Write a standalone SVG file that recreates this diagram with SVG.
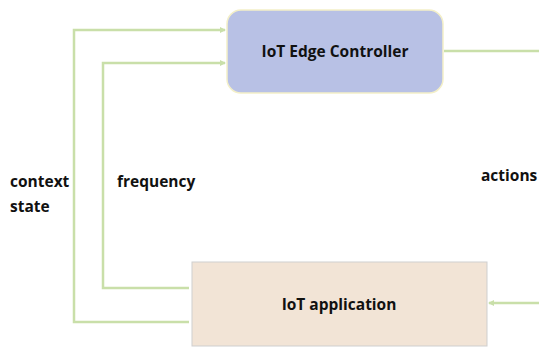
<svg xmlns="http://www.w3.org/2000/svg" width="539" height="348" viewBox="0 0 539 348">
  <style>
    .wire { fill: none; stroke: #c9dfa9; stroke-width: 2.5; }
    .label { font-family: "Open Sans", "Liberation Sans", sans-serif; font-weight: bold; font-size: 15.5px; fill: #111; }
  </style>
  <defs>
    <marker id="arrow" markerWidth="6" markerHeight="6" refX="5" refY="3" orient="auto" markerUnits="userSpaceOnUse">
      <path d="M0,0 L6,3 L0,6 Z" fill="#c9dfa9"/>
    </marker>
  </defs>
  <rect width="539" height="348" fill="#fff"/>

  <g id="connectors">
    <!-- context state loop -->
    <path class="wire" d="M189,322 H74 V30 H225" marker-end="url(#arrow)"/>
    <!-- frequency loop -->
    <path class="wire" d="M189,288 H103 V63 H225" marker-end="url(#arrow)"/>
    <!-- actions out of controller -->
    <path class="wire" d="M444,51 H539"/>
    <!-- actions into application -->
    <path class="wire" d="M539,303 H489" marker-end="url(#arrow)"/>
  </g>

  <g id="controller">
    <rect x="227" y="10" width="216" height="83" rx="14" fill="#b8c1e5" stroke="#f3efc8" stroke-width="1.5"/>
    <text class="label" x="335" y="57" text-anchor="middle">IoT Edge Controller</text>
  </g>

  <g id="application">
    <rect x="192" y="262" width="295" height="84" fill="#f2e4d6" stroke="#cfcfcf" stroke-width="1"/>
    <text class="label" x="339" y="310" text-anchor="middle">IoT application</text>
  </g>

  <g id="labels">
    <text class="label" x="10" y="187">context</text>
    <text class="label" x="10" y="212">state</text>
    <text class="label" x="117" y="187">frequency</text>
    <text class="label" x="481" y="181">actions</text>
  </g>
</svg>
